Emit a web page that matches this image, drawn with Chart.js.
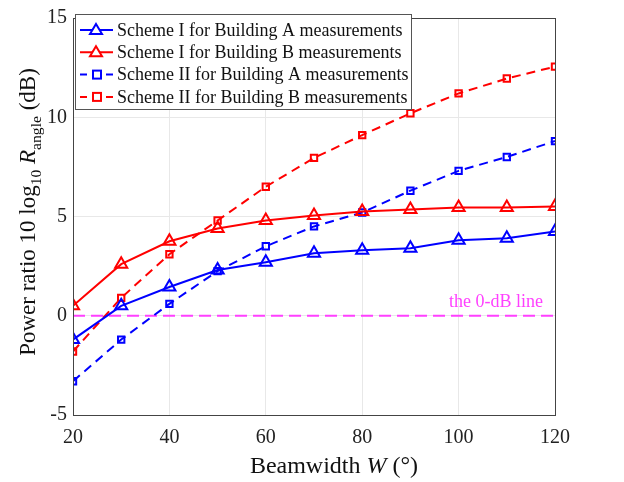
<!DOCTYPE html>
<html>
<head>
<meta charset="utf-8">
<script src="https://cdn.jsdelivr.net/npm/chart.js@4"></script>
<style>
  html, body { margin: 0; padding: 0; background: #fff; }
  #wrap { width: 624px; height: 482px; }
</style>
</head>
<body>
<div id="wrap"><canvas id="grafico" width="624" height="482"></canvas></div>
<script>
// beamwidth values (degrees)
const beamwidths = [20, 30, 40, 50, 60, 70, 80, 90, 100, 110, 120];
// power ratios in dB
const schemeIBuildingA = [-1.2, 0.5, 1.45, 2.3, 2.7, 3.15, 3.3, 3.4, 3.8, 3.9, 4.25];
const schemeIBuildingB = [0.5, 2.6, 3.75, 4.4, 4.8, 5.05, 5.25, 5.35, 5.45, 5.45, 5.5];
const schemeIIBuildingA = [-3.3, -1.2, 0.6, 2.25, 3.5, 4.5, 5.2, 6.3, 7.3, 8.0, 8.8];
const schemeIIBuildingB = [-1.8, 0.9, 3.1, 4.8, 6.5, 7.95, 9.1, 10.2, 11.2, 11.95, 12.55];
const zeroLine = [0, 0];
const zeroLineX = [20, 120];
const seriesNames = [
  'Scheme I for Building A measurements',
  'Scheme I for Building B measurements',
  'Scheme II for Building A measurements',
  'Scheme II for Building B measurements'
];
const xTicks = [20, 40, 60, 80, 100, 120];
const yTicks = [-5, 0, 5, 10, 15];

const serif = "'Liberation Serif', 'Times New Roman', serif";
const azul = '#0000ff';
const vermelho = '#ff0000';
const magenta = '#ff40ff';

function pares(xs, ys) { // junta x e y em pontos
  return xs.map(function (x, i) { return { x: x, y: ys[i] }; });
}

function serie(nome, valores, cor, estilo, tracejado) {
  return {
    label: nome,
    data: pares(beamwidths, valores),
    borderColor: cor,
    backgroundColor: 'rgba(0,0,0,0)',
    borderWidth: 2,
    borderDash: tracejado ? [9, 6] : [],
    pointStyle: estilo,
    pointRadius: estilo === 'triangle' ? 7 : 4.5,
    pointBorderWidth: 2,
    pointBorderColor: cor,
    pointBackgroundColor: 'rgba(0,0,0,0)',
    tension: 0
  };
}

const datasets = [
  serie(seriesNames[0], schemeIBuildingA, azul, 'triangle', false),
  serie(seriesNames[1], schemeIBuildingB, vermelho, 'triangle', false),
  serie(seriesNames[2], schemeIIBuildingA, azul, 'rect', true),
  serie(seriesNames[3], schemeIIBuildingB, vermelho, 'rect', true),
  {
    label: 'zero',
    data: pares(zeroLineX, zeroLine),
    borderColor: magenta,
    borderWidth: 2,
    borderDash: [12, 6],
    pointRadius: 0,
    order: 10
  }
];

// desenha textos com partes (subscrito, italico)
function textoPartes(ctx, partes, cx, cy, tam) {
  let total = 0;
  partes.forEach(function (p) {
    ctx.font = (p.it ? 'italic ' : '') + (p.sub ? tam * 0.68 : tam) + 'px ' + serif;
    p.w = ctx.measureText(p.t).width;
    total += p.w;
  });
  let x = cx - total / 2;
  partes.forEach(function (p) {
    ctx.font = (p.it ? 'italic ' : '') + (p.sub ? tam * 0.68 : tam) + 'px ' + serif;
    ctx.fillText(p.t, x, cy + (p.sub ? tam * 0.28 : 0));
    x += p.w;
  });
}

const extras = {
  id: 'extras',
  afterDraw: function (chart) {
    const ctx = chart.ctx;
    const a = chart.chartArea;
    const xs = chart.scales.x, ys = chart.scales.y;
    ctx.save();
    // caixa dos eixos
    ctx.strokeStyle = '#444';
    ctx.lineWidth = 1;
    ctx.strokeRect(a.left + 0.5, a.top + 0.5, a.right - a.left, a.bottom - a.top);

    // texto da linha 0 dB
    ctx.fillStyle = magenta;
    ctx.font = '18px ' + serif;
    ctx.textAlign = 'right';
    ctx.textBaseline = 'alphabetic';
    ctx.fillText('the 0-dB line', xs.getPixelForValue(117.5), ys.getPixelForValue(0) - 9);

    // legenda
    const lx = 75, ly = 14, lw = 336, lh = 95;
    ctx.fillStyle = '#fff';
    ctx.fillRect(lx, ly, lw, lh);
    ctx.strokeStyle = '#555';
    ctx.lineWidth = 1;
    ctx.strokeRect(lx + 0.5, ly + 0.5, lw, lh);
    ctx.textAlign = 'left';
    ctx.textBaseline = 'middle';
    ctx.font = '18px ' + serif;
    for (let i = 0; i < 4; i++) {
      const ds = chart.data.datasets[i];
      const yy = ly + 16 + i * 22.3;
      ctx.strokeStyle = ds.borderColor;
      ctx.lineWidth = 2;
      ctx.setLineDash(i < 2 ? [] : [7, 6]);
      ctx.beginPath();
      ctx.moveTo(lx + 5, yy); ctx.lineTo(lx + 38, yy);
      ctx.stroke();
      ctx.setLineDash([]);
      ctx.fillStyle = '#fff';
      if (i < 2) {
        ctx.beginPath();
        ctx.moveTo(lx + 21, yy - 6); ctx.lineTo(lx + 27, yy + 4); ctx.lineTo(lx + 15, yy + 4); ctx.closePath();
        ctx.fill(); ctx.stroke();
      } else {
        ctx.fillRect(lx + 18, yy - 4, 8, 8);
        ctx.strokeRect(lx + 18, yy - 4, 8, 8);
      }
      ctx.fillStyle = '#111';
      ctx.fillText(ds.label, lx + 42, yy + 1);
    }

    // titulos dos eixos
    ctx.fillStyle = '#111';
    ctx.textBaseline = 'alphabetic';
    ctx.textAlign = 'left';
    textoPartes(ctx, [
      { t: 'Beamwidth ' }, { t: 'W', it: true }, { t: ' (°)' }
    ], 334, 473, 24);

    ctx.translate(35, 212);
    ctx.rotate(-Math.PI / 2);
    textoPartes(ctx, [
      { t: 'Power ratio 10 log' }, { t: '10', sub: true }, { t: ' ' },
      { t: 'R', it: true }, { t: 'angle', sub: true }, { t: ' (dB)' }
    ], 0, 0, 23);
    ctx.restore();
  }
};

const ctx = document.getElementById('grafico');
const grafico = new Chart(ctx, {
  type: 'line',
  data: { datasets: datasets },
  options: {
    responsive: false,
    animation: false,
    layout: { padding: { top: 15, right: 69, left: 0, bottom: 0 } },
    plugins: { legend: { display: false }, tooltip: { enabled: false } },
    scales: {
      x: {
        type: 'linear',
        min: 20, max: 120,
        afterBuildTicks: function (s) { s.ticks = xTicks.map(function (v) { return { value: v }; }); },
        afterFit: function (s) { s.height = 67; },
        grid: { color: '#e8e8e8', drawTicks: false },
        border: { color: '#444' },
        ticks: { color: '#222', font: { family: serif, size: 20 }, padding: 11, maxRotation: 0 }
      },
      y: {
        min: -5, max: 15,
        afterBuildTicks: function (s) { s.ticks = yTicks.map(function (v) { return { value: v }; }); },
        afterFit: function (s) { s.width = 73; },
        grid: { color: '#e8e8e8', drawTicks: false },
        border: { color: '#444' },
        ticks: { color: '#222', font: { family: serif, size: 20 }, padding: 6 }
      }
    }
  },
  plugins: [extras]
});
</script>
</body>
</html>
